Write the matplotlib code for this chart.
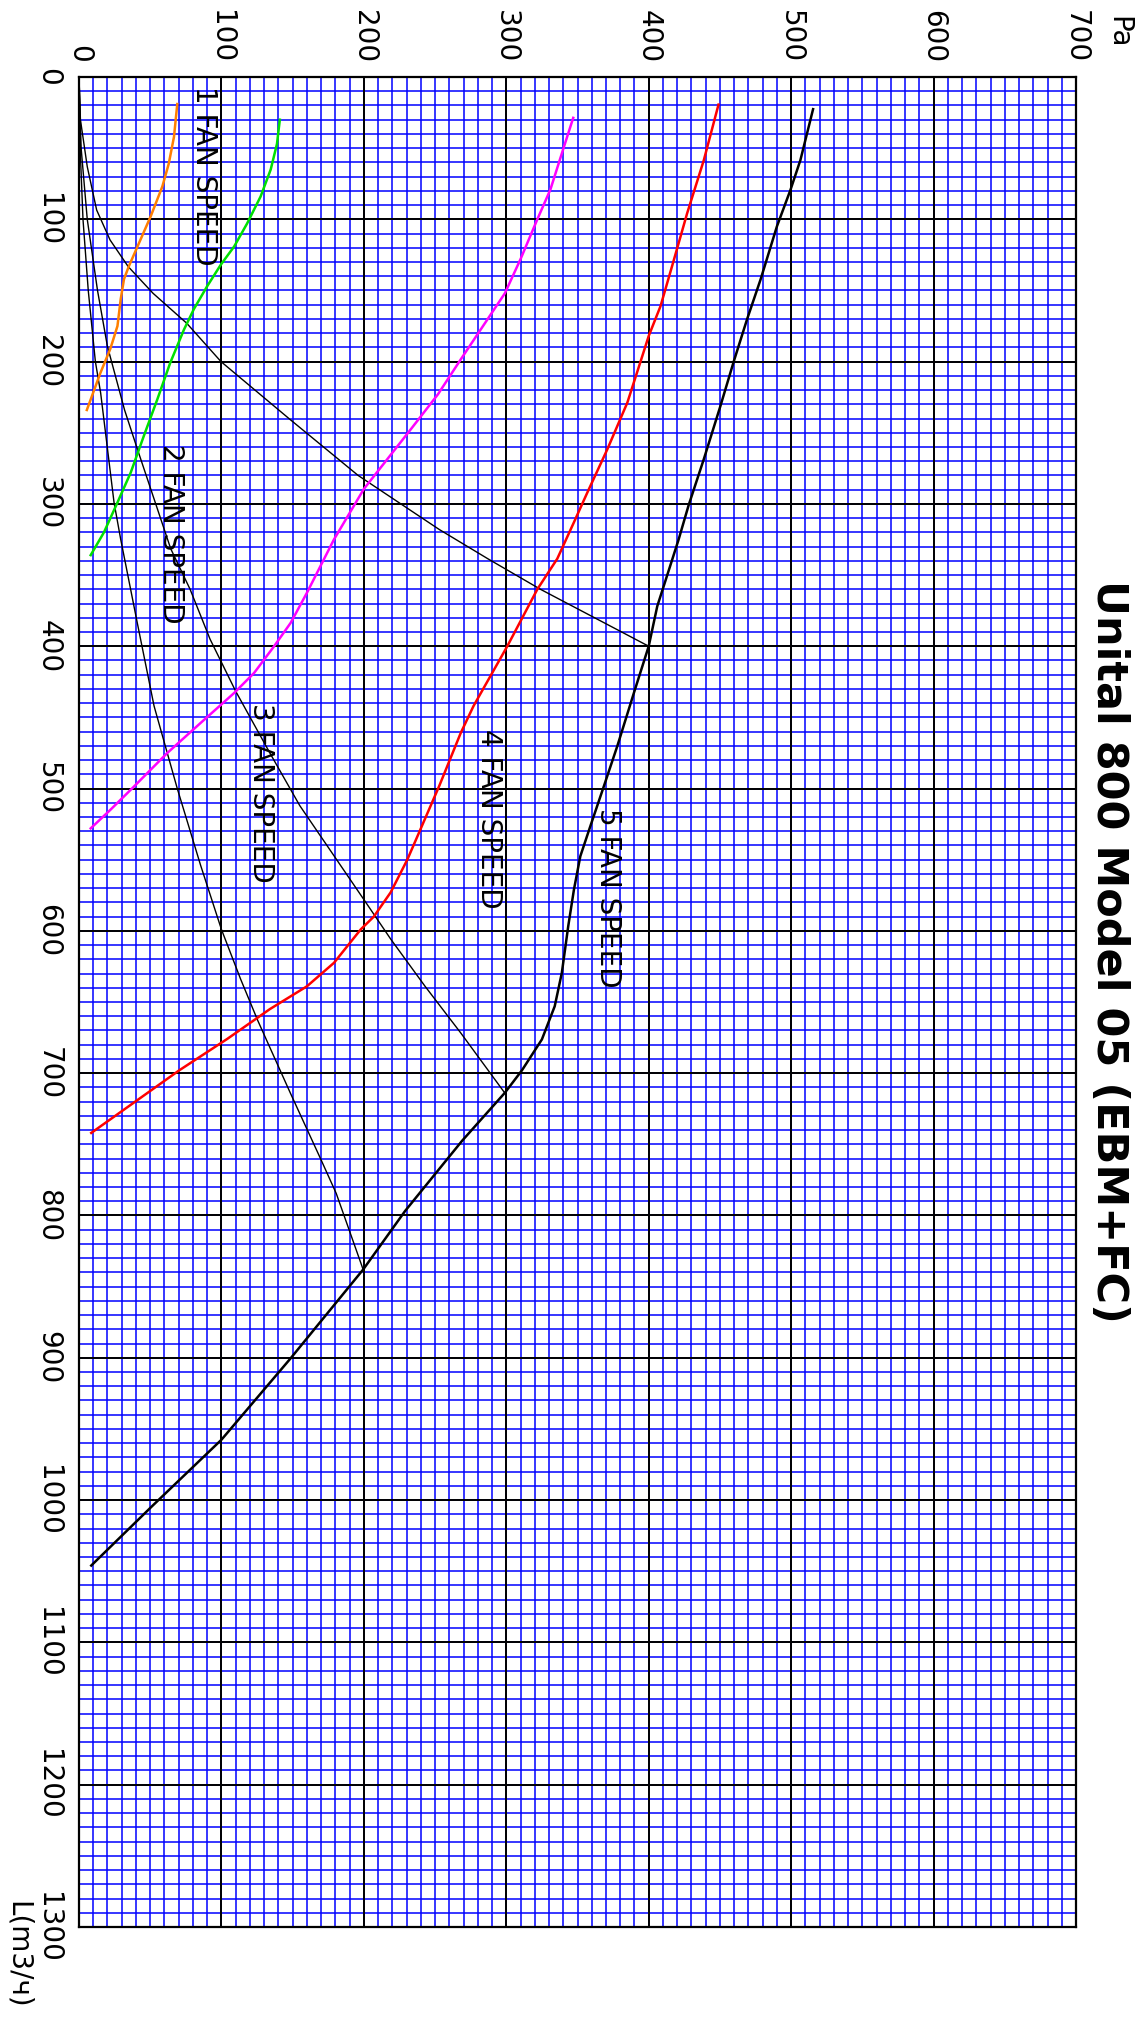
import matplotlib
matplotlib.use("Agg")
import matplotlib.pyplot as plt
import numpy as np

# chart is drawn turned on its side: pressure (Pa) runs left->right, airflow L(m3/ч) runs top->bottom
title = "Unital 800 Model 05 (EBM+FC)"

pa_ticks = [0, 100, 200, 300, 400, 500, 600, 700]
flow_ticks = [0, 100, 200, 300, 400, 500, 600, 700, 800, 900, 1000, 1100, 1200, 1300]

# fan curves (flow, pressure)
fan1_flow = [19, 42, 61, 77, 98, 117, 133, 142, 156, 175, 191, 208, 234]
fan1_pa = [69, 66.7, 63, 58.5, 50.3, 42, 35, 31.6, 29.3, 27, 22, 15, 5.5]

fan2_flow = [30, 47, 65, 84, 103, 119, 132, 147, 163, 177.5, 201, 226.5, 252, 278, 299, 320, 336]
fan2_pa = [141, 139, 134.6, 127.5, 118, 109, 99.5, 90, 80.7, 73.7, 64, 55, 45.6, 36.3, 27, 17.5, 8.2]

fan3_flow = [28.7, 49, 79, 100, 128, 152, 170, 198.5, 223, 247.5, 289.5, 325, 362.5, 383.6, 400,
             418.7, 432.8, 453.9, 475, 498.6, 515, 528]
fan3_pa = [347, 340.5, 331, 321.8, 310, 299, 287, 268, 252, 233, 200, 179, 160, 148.6, 137,
           123, 109, 85.4, 62, 38.6, 22, 8.2]

fan4_flow = [19.4, 58.4, 95.7, 128.4, 161, 182, 200.8, 228.8, 261.5, 291.8, 312.9, 338.5, 360, 400,
             442, 461, 498, 550, 573, 590, 599, 622.5, 639, 655, 676, 698, 742]
fan4_pa = [449, 438.7, 427, 417.7, 408.3, 400, 394, 385, 371, 357, 347.5, 335.8, 321.8, 300.7,
           277, 268, 253, 230.5, 218.8, 207, 197.8, 179, 160, 134, 104, 70.4, 8.6]

fan5_flow = [22.6, 58.4, 79.4, 105, 142.4, 170.4, 199.6, 231, 268.5, 301, 325, 343.8, 371.9, 400,
             432.8, 470, 498.4, 526.5, 547.5, 571, 596.7, 629.5, 653, 676.3, 698, 713.8, 747.5,
             796.8, 838, 900.6, 957.6, 1004, 1046]
fan5_pa = [515.4, 506.5, 499.5, 490, 478.5, 469, 459.8, 450.4, 438.7, 428, 421, 415, 406, 400,
           389.6, 378, 368.5, 359, 352, 347.5, 343.5, 339, 334, 325, 311, 299, 269,
           229, 199.5, 148.4, 100, 51.6, 8.6]

# system (network) curves, thin black
sysA_flow = [0, 30, 63, 93.5, 114.5, 133.3, 152, 173, 200, 240.5, 280, 318, 338.5, 360, 400]
sysA_pa = [0, 1, 5.8, 12.4, 21.8, 34.6, 52, 75.6, 99.7, 148, 196, 253, 287, 324, 400]

sysB_flow = [0, 50, 100, 150, 189, 234, 261.5, 296.5, 331.5, 360, 395, 431.6, 475, 512, 578, 606, 639, 671.7, 714]
sysB_pa = [0, 1.5, 5.8, 13, 19.9, 32, 41, 52.7, 64.4, 78, 92, 110, 134, 155, 200, 219, 243, 268, 299]

sysC_flow = [0, 60, 100, 150, 200, 222, 299, 325, 384, 442, 500, 554, 599, 634, 663, 714, 761, 784.5, 838]
sysC_pa = [0, 1.2, 2.8, 6.5, 11.5, 15.2, 24.6, 29.3, 41, 52.7, 69, 85.4, 100, 113.5, 125.5, 148.4, 170, 180.6, 199.5]

labels = ["1 FAN SPEED", "2 FAN SPEED", "3 FAN SPEED", "4 FAN SPEED", "5 FAN SPEED"]
label_pa = [88, 64.5, 127.5, 288, 371.3]
label_flow = [6, 258, 440, 458, 514]

fig = plt.figure(figsize=(11.36, 20.22), dpi=100)
ax = fig.add_axes([79 / 1136, 95 / 2022, 997 / 1136, 1850 / 2022])

ax.set_xlim(0, 700)
ax.set_ylim(1300, 0)

# graph paper
for v in np.arange(0, 701, 10):
    ax.axvline(v, color='#0000ff', lw=1.1, zorder=1)
for v in np.arange(0, 1301, 10):
    ax.axhline(v, color='#0000ff', lw=1.1, zorder=1)
for v in pa_ticks:
    ax.axvline(v, color='black', lw=1.4, zorder=2)
for v in flow_ticks:
    ax.axhline(v, color='black', lw=1.4, zorder=2)

ax.plot(sysA_pa, sysA_flow, color='black', lw=1.0, zorder=3)
ax.plot(sysB_pa, sysB_flow, color='black', lw=1.0, zorder=3)
ax.plot(sysC_pa, sysC_flow, color='black', lw=1.0, zorder=3)

ax.plot(fan1_pa, fan1_flow, color='#ff7f00', lw=1.8, zorder=4)
ax.plot(fan2_pa, fan2_flow, color='#00e000', lw=1.8, zorder=4)
ax.plot(fan3_pa, fan3_flow, color='#ff00ff', lw=1.8, zorder=4)
ax.plot(fan4_pa, fan4_flow, color='#ff0000', lw=1.8, zorder=4)
ax.plot(fan5_pa, fan5_flow, color='black', lw=1.8, zorder=4)

for t, x, y in zip(labels, label_pa, label_flow):
    ax.text(x, y, t, rotation=270, ha='center', va='top', fontsize=20, zorder=5)

ax.xaxis.tick_top()
ax.set_xticks(pa_ticks)
ax.set_xticklabels([str(v) for v in pa_ticks])
ax.set_yticks(flow_ticks)
ax.set_yticklabels([str(v) for v in flow_ticks])
ax.tick_params(axis='x', length=0, pad=10, labelsize=20, labelrotation=270)
ax.tick_params(axis='y', length=0, pad=12, labelsize=20, labelrotation=270)
for lab in ax.get_yticklabels():
    lab.set_va('center')
for s in ax.spines.values():
    s.set_linewidth(1.6)

fig.text(1118 / 1136, 1 - 32 / 2022, "Pa", rotation=270, ha='center', va='center', fontsize=20)
fig.text(18 / 1136, 1 - 1955 / 2022, "L(m3/ч)", rotation=270, ha='center', va='center', fontsize=20)
fig.text(1088 / 1136, 1 - 580 / 2022, title, rotation=270, ha='left', va='top',
         fontsize=31, fontweight='bold')

fig.savefig("out.png", dpi=100)
